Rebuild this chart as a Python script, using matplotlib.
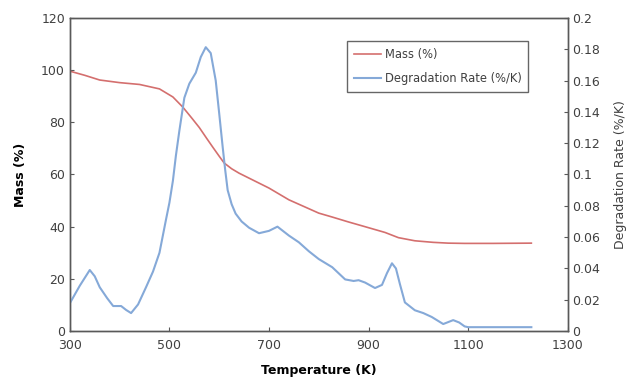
import matplotlib.pyplot as plt

# Mass curve (left axis, %)
mass_temp = [300, 330, 360, 400, 440, 480, 507, 527, 545, 560, 575, 587, 600, 610, 625,
             640, 660, 700, 740, 800, 827, 860, 893, 933, 960, 993, 1030, 1060, 1093,
             1150, 1227]
mass_pct = [99.6, 98.0, 96.2, 95.2, 94.5, 92.8, 89.7, 85.8, 81.6, 78.0, 73.8, 70.5, 67.0,
            64.4, 62.2, 60.5, 58.6, 54.8, 50.3, 45.2, 43.7, 41.8, 40.0, 37.8, 35.8, 34.6,
            34.0, 33.7, 33.6, 33.6, 33.7]

# Degradation rate curve (right axis, %/K)
rate_temp = [300, 320, 340, 350, 360, 375, 387, 403, 413, 423, 437, 453, 467, 480, 493,
             500, 507, 513, 520, 530, 540, 553, 563, 573, 583, 593, 600, 607, 612, 617,
             625, 633, 645, 660, 680, 700, 717, 740, 760, 780, 800, 827, 853, 870, 880,
             893, 913, 927, 937, 947, 955, 963, 973, 993, 1010, 1027, 1050, 1070, 1082,
             1093, 1100, 1150, 1227]
rate = [0.0178, 0.0290, 0.0390, 0.0350, 0.0280, 0.0210, 0.0160, 0.0160, 0.0135, 0.0115,
        0.0170, 0.0280, 0.0380, 0.0500, 0.0710, 0.0820, 0.0960, 0.1120, 0.1280, 0.1490,
        0.1580, 0.1650, 0.1750, 0.1813, 0.1775, 0.1600, 0.1390, 0.1175, 0.1030, 0.0900,
        0.0810, 0.0750, 0.0700, 0.0660, 0.0625, 0.0640, 0.0667, 0.0610, 0.0567, 0.0510,
        0.0460, 0.0408, 0.0330, 0.0320, 0.0325, 0.0310, 0.0275, 0.0295, 0.0370, 0.0433,
        0.0400, 0.0300, 0.0183, 0.0133, 0.0115, 0.0090, 0.0045, 0.0070, 0.0055, 0.0030,
        0.0025, 0.0025, 0.0025]

red = '#D46F6E'
blue = '#85A9D8'
spine_col = '#595959'

fig = plt.figure(figsize=(6.35, 3.81), dpi=100)
ax = fig.add_axes([0.110, 0.131, 0.784, 0.822])
ax2 = ax.twinx()

l1, = ax.plot(mass_temp, mass_pct, color=red, lw=1.2, label='Mass (%)')
l2, = ax2.plot(rate_temp, rate, color=blue, lw=1.5, label='Degradation Rate (%/K)')

ax.set_xlim(300, 1300)
ax.set_ylim(0, 120)
ax2.set_ylim(0, 0.2)
ax.set_xticks([300, 500, 700, 900, 1100, 1300])
ax.set_yticks(range(0, 121, 20))
ax2.set_yticks([0, 0.02, 0.04, 0.06, 0.08, 0.1, 0.12, 0.14, 0.16, 0.18, 0.2])
ax2.set_yticklabels(['0', '0.02', '0.04', '0.06', '0.08', '0.1', '0.12', '0.14',
                     '0.16', '0.18', '0.2'])

for a in (ax, ax2):
    for s in a.spines.values():
        s.set_color(spine_col)
        s.set_linewidth(1.0)
    a.tick_params(direction='in', length=3, color=spine_col, labelsize=9,
                  labelcolor='#404040')
ax.tick_params(axis='x', pad=6)

ax.set_xlabel('Temperature (K)', fontsize=9, fontweight='bold', labelpad=8)
ax.set_ylabel('Mass (%)', fontsize=9, fontweight='bold', labelpad=10)
ax2.set_ylabel('Degradation Rate (%/K)', fontsize=9, labelpad=10, color='#404040')

leg = ax.legend(handles=[l1, l2], loc='upper left', bbox_to_anchor=(0.556, 0.925),
                borderaxespad=0, fontsize=8.3, fancybox=False, handlelength=2.4,
                handletextpad=0.3, labelspacing=0.9, borderpad=0.6,
                labelcolor='#404040')
leg.get_frame().set_edgecolor('#404040')
leg.get_frame().set_linewidth(1.0)

fig.savefig('out.png', dpi=100)
